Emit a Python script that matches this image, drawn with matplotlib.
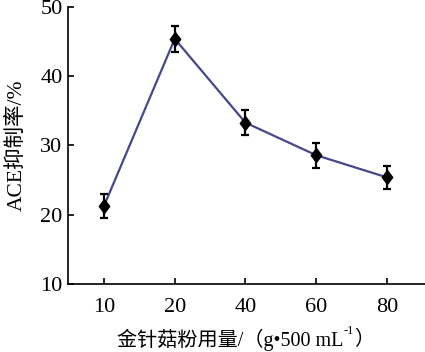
import numpy as np
import matplotlib as mpl
import matplotlib.pyplot as plt

DOSES = ["10", "20", "40", "60", "80"]
INHIBITION = [21.3, 45.4, 33.3, 28.6, 25.4]
ERR = [1.7, 1.9, 1.8, 1.8, 1.65]
Y_TICKS = [10, 20, 30, 40, 50]

FONTS = ["Liberation Serif", "Noto Sans CJK SC", "DejaVu Sans"]

mpl.rcParams.update({
    "font.family": FONTS,
    "font.size": 15,
    "axes.spines.right": False,
    "axes.spines.top": False,
    "axes.linewidth": 1.2,
})

fig = plt.figure(figsize=(4.25, 3.52), dpi=100)
ax = fig.add_axes([68 / 425, 1 - 284 / 352, 357 / 425, 277 / 352])

diamond = [(0, 1), (0.75, 0), (0, -1), (-0.75, 0), (0, 1)]

x = np.arange(len(DOSES))
ax.errorbar(x, INHIBITION, yerr=ERR, color="#46478c", linewidth=1.6,
            marker=diamond, markersize=10, markerfacecolor="black",
            markeredgecolor="black", ecolor="black", elinewidth=1.6,
            capsize=3.2, capthick=1.6)

ax.set_xlim(-0.51, 4.54)
ax.set_ylim(10, 50)
ax.set_xticks(x, DOSES)
ax.set_yticks(Y_TICKS)
ax.tick_params(direction="in", length=4, width=1.2, labelsize=16, pad=4)
ax.tick_params(axis="x", pad=10)

ax.set_ylabel("ACE抑制率/%", fontsize=15.5, labelpad=10)

# x label built in pieces so the superscript keeps the CJK fallback
t1 = fig.text(117 / 425, 1 - 340 / 352, "金针菇粉用量/（g•500 mL",
              fontsize=14.5, ha="left", va="center")
t2 = ax.annotate("-1", xy=(1, 0.62), xycoords=t1, fontsize=9,
                 ha="left", va="bottom", annotation_clip=False)
ax.annotate("）", xy=(1, 0.5), xycoords=(t2, t1), fontsize=14.5,
            ha="left", va="center", annotation_clip=False)

fig.savefig("out.png", dpi=100)
plt.close(fig)
